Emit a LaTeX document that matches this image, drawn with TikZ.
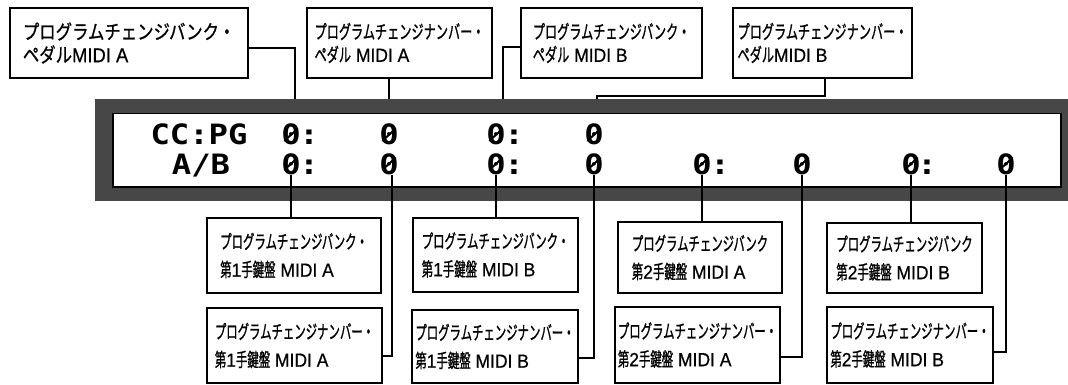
\documentclass[tikz,border=0pt]{standalone}
\usepackage{fontspec}
\newfontfamily\jp[FakeBold=0.9]{Noto Sans CJK JP}
\newfontfamily\latfont[FakeBold=0.6]{Liberation Sans}
\newcommand\lat[1]{{\latfont\addfontfeature{FakeStretch=0.92}#1}}
\newfontfamily\lcdfont[FakeStretch=1.15]{DejaVu Sans Mono Bold}
\begin{document}
\begin{tikzpicture}[x=1pt,y=-1pt,
  box/.style={draw, line width=2pt, align=left, inner sep=0pt},
  topbox/.style={box, minimum height=70pt, font=\jp\fontsize{19}{23}\selectfont\addfontfeature{FakeStretch=0.64}},
  botbox/.style={box, font=\jp\fontsize{19}{28}\selectfont\addfontfeature{FakeStretch=0.6}},
  lcd/.style={inner sep=0pt, anchor=base, font=\lcdfont\fontsize{28}{28}\selectfont},
  slash/.style={line width=2pt, line cap=round},
  thin/.style={line width=1.3pt},
  thick/.style={line width=2pt}
]
\useasboundingbox (0,0) rectangle (1068,385);
% display
\node[fill=black!72, minimum width=973pt, minimum height=102pt, inner sep=0pt, anchor=north west] (disp) at (95,99) {};
\node[fill=white, draw=black, line width=1.5pt, minimum width=948pt, minimum height=73pt, inner sep=0pt, anchor=north west] (scr) at (112,113) {};
% LCD text
\node[lcd] (cc) at (199,145) {CC:PG};
\node[lcd] (ab) at (201,174) {A/B};
\node[lcd] (z11) at (291,145) {0};
\node[lcd] (c11) at (309,145) {:};
\node[lcd] (z12) at (389,145) {0};
\node[lcd] (z13) at (496,145) {0};
\node[lcd] (c13) at (514,145) {:};
\node[lcd] (z14) at (594,145) {0};
\node[lcd] (z21) at (291,174) {0};
\node[lcd] (c21) at (309,174) {:};
\node[lcd] (z22) at (389,174) {0};
\node[lcd] (z23) at (496,174) {0};
\node[lcd] (c23) at (514,174) {:};
\node[lcd] (z24) at (594,174) {0};
\node[lcd] (z25) at (702,174) {0};
\node[lcd] (c25) at (720,174) {:};
\node[lcd] (z26) at (802,174) {0};
\node[lcd] (z27) at (911,174) {0};
\node[lcd] (c27) at (927,174) {:};
\node[lcd] (z28) at (1006,174) {0};
\foreach \z in {z11,z12,z13,z14,z21,z22,z23,z24,z25,z26,z27,z28}
  \draw[slash] ([xshift=3.5pt,yshift=5pt]\z.south west) -- ([xshift=-3.5pt,yshift=-5pt]\z.north east);
% top boxes
\node[topbox, minimum width=238pt, font=\jp\fontsize{20}{23}\selectfont\addfontfeature{FakeStretch=0.82}] (t1) at (129,43) {プログラムチェンジバンク・\\ペダル\lat{MIDI A}};
\node[topbox, minimum width=185pt] (t2) at (399.5,43) {プログラムチェンジナンバー・\\ペダル\lat{\ MIDI A}};
\node[topbox, minimum width=181pt] (t3) at (611.5,43) {プログラムチェンジバンク・\\ペダル\lat{\ MIDI B}};
\node[topbox, minimum width=179pt] (t4) at (822.5,43) {プログラムチェンジナンバー・\\ペダル\lat{MIDI B}};
% bottom boxes
\node[botbox, minimum width=174pt, minimum height=75pt] (ba1) at (294,255.5) {プログラムチェンジバンク・\\第\lat{1}手鍵盤\lat{\ MIDI A}};
\node[botbox, minimum width=175pt, minimum height=75pt] (na1) at (294.5,345.5) {プログラムチェンジナンバー・\\第\lat{1}手鍵盤\lat{\ MIDI A}};
\node[botbox, minimum width=165pt, minimum height=74pt] (bb1) at (495.5,255) {プログラムチェンジバンク・\\第\lat{1}手鍵盤\lat{\ MIDI B}};
\node[botbox, minimum width=166pt, minimum height=73pt] (nb1) at (495,346.5) {プログラムチェンジナンバー・\\第\lat{1}手鍵盤\lat{\ MIDI B}};
\node[botbox, minimum width=164pt, minimum height=71pt] (ba2) at (700,257.5) {プログラムチェンジバンク\\第\lat{2}手鍵盤\lat{\ MIDI A}};
\node[botbox, minimum width=165pt, minimum height=76pt] (na2) at (697.5,345) {プログラムチェンジナンバー・\\第\lat{2}手鍵盤\lat{\ MIDI A}};
\node[botbox, minimum width=155pt, minimum height=70pt] (bb2) at (904.5,258) {プログラムチェンジバンク\\第\lat{2}手鍵盤\lat{\ MIDI B}};
\node[botbox, minimum width=166pt, minimum height=76pt] (nb2) at (910,345) {プログラムチェンジナンバー・\\第\lat{2}手鍵盤\lat{\ MIDI B}};
% top connectors
\draw[thin] ([yshift=-5pt]t1.east) -| ([xshift=4pt]z11.center |- disp.north);
\draw[thin] (z12.center |- t2.south) -- (z12.center |- disp.north);
\draw[thin] ([yshift=-4pt]t3.west) -| ([xshift=7pt]z13.center |- disp.north);
\draw[thin] ([xshift=2.5pt]t4.south) -- ++(0,17) -| ([xshift=3pt]z14.center |- disp.north);
% bottom connectors
\draw[thick] (z21.south) -- (z21.south |- ba1.north);
\draw[thick] ([xshift=3pt]z22.south) |- ([yshift=-10pt]na1.east);
\draw[thick] (z23.south) -- (z23.south |- bb1.north);
\draw[thick] (z24.south) |- ([yshift=-11pt]nb1.east);
\draw[thick] (z25.south) -- (z25.south |- ba2.north);
\draw[thick] (z26.south) |- ([yshift=-12pt]na2.east);
\draw[thick] (z27.south) -- (z27.south |- bb2.north);
\draw[thick] (z28.south) |- ([yshift=-7pt]nb2.east);
\end{tikzpicture}
\end{document}
